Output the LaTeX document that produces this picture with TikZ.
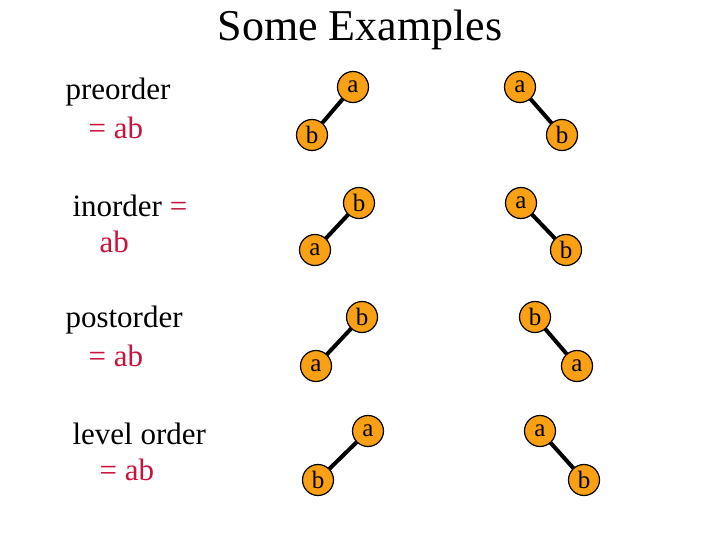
\documentclass[tikz,border=0pt]{standalone}
\usepackage{fontspec}
\setmainfont{Liberation Serif}
\definecolor{nodeor}{RGB}{250,160,20}
\definecolor{lblred}{RGB}{200,20,60}
\begin{document}
\begin{tikzpicture}[x=1pt,y=-1pt,
  tn/.style={circle,draw=black,line width=1.2pt,fill=nodeor,minimum size=31pt,inner sep=0pt,font=\fontsize{25}{25}\selectfont},
  ed/.style={line width=4pt,black},
  lbl/.style={anchor=west,font=\fontsize{31}{31}\selectfont}]
\useasboundingbox (0,0) rectangle (720,540);
\node (title) at (360,30) {\fontsize{44}{44}\selectfont Some Examples};
\node[lbl] (l1a) at (62,92) {preorder};
\node[lbl,text=lblred] (l1b) at (85,128) {= ab};
\node[lbl] (l2a) at (69,206) {inorder \textcolor{lblred}{=}};
\node[lbl,text=lblred] (l2b) at (96,242) {ab};
\node[lbl] (l3a) at (62,320) {postorder};
\node[lbl,text=lblred] (l3b) at (85,356) {= ab};
\node[lbl] (l4a) at (69,434) {level order};
\node[lbl,text=lblred] (l4b) at (96,470) {= ab};
\coordinate (r1a) at (353,87); \coordinate (r1b) at (312,135);
\coordinate (r1c) at (520,87); \coordinate (r1d) at (562,135);
\coordinate (r2a) at (359,203); \coordinate (r2b) at (315,250);
\coordinate (r2c) at (521,203); \coordinate (r2d) at (566,250);
\coordinate (r3a) at (362,317); \coordinate (r3b) at (316,366);
\coordinate (r3c) at (535,317); \coordinate (r3d) at (577,366);
\coordinate (r4a) at (368,431); \coordinate (r4b) at (318,480);
\coordinate (r4c) at (540,431); \coordinate (r4d) at (584,480);
\foreach \p/\c in {r1a/r1b,r1c/r1d,r2a/r2b,r2c/r2d,r3a/r3b,r3c/r3d,r4a/r4b,r4c/r4d}{
  \draw[ed] (\p) -- (\c);
}
\node[tn] (n1a) at (r1a) {a};
\node[tn] (n1b) at (r1b) {b};
\node[tn] (n1c) at (r1c) {a};
\node[tn] (n1d) at (r1d) {b};
\node[tn] (n2a) at (r2a) {b};
\node[tn] (n2b) at (r2b) {a};
\node[tn] (n2c) at (r2c) {a};
\node[tn] (n2d) at (r2d) {b};
\node[tn] (n3a) at (r3a) {b};
\node[tn] (n3b) at (r3b) {a};
\node[tn] (n3c) at (r3c) {b};
\node[tn] (n3d) at (r3d) {a};
\node[tn] (n4a) at (r4a) {a};
\node[tn] (n4b) at (r4b) {b};
\node[tn] (n4c) at (r4c) {a};
\node[tn] (n4d) at (r4d) {b};
\end{tikzpicture}
\end{document}
